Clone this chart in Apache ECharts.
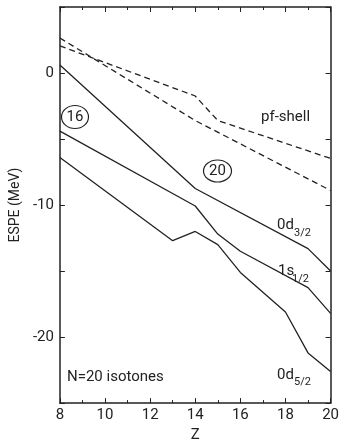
<!DOCTYPE html>
<html><head><meta charset="utf-8">
<script src="https://cdn.jsdelivr.net/npm/echarts@6/dist/echarts.min.js"></script>
<style>html,body{margin:0;padding:0;background:#fff}#c{width:342px;height:448px}</style>
</head><body><div id="c"></div>
<script>
// Data (Z, ESPE in MeV)
const d32Z = [8, 14, 19, 20];
const d32E = [0.6, -8.75, -13.3, -15.0];
const s12Z = [8, 14, 15, 16, 19, 20];
const s12E = [-4.4, -10.07, -12.2, -13.5, -16.25, -18.2];
const d52Z = [8, 13, 14, 15, 16, 18, 19, 20];
const d52E = [-6.4, -12.7, -12.0, -13.0, -15.1, -18.1, -21.2, -22.6];
const pfAZ = [8, 14, 20];
const pfAE = [2.65, -3.6, -8.9];
const pfBZ = [8, 14, 15, 20];
const pfBE = [2.06, -1.74, -3.6, -6.47];
const xTicks = [8, 10, 12, 14, 16, 18, 20];
const yTicks = [-20, -10, 0];
const yMinorTicks = [-25, -20, -15, -10, -5, 0, 5];

const pairs = (zs, es) => zs.map((z, i) => [z, es[i]]);
const FONT = 'Roboto';
const INK = '#222';

const chart = echarts.init(document.getElementById('c'), null, {renderer: 'canvas'});
const axisCommon = {
  type: 'value', min: 8, max: 20, interval: 2,
  axisLine: {show: true, onZero: false, lineStyle: {color: INK, width: 1.5}},
  axisTick: {show: true, inside: true, length: 5, lineStyle: {color: INK, width: 1}},
  minorTick: {show: true, splitNumber: 2, length: 3, lineStyle: {color: INK, width: 1}},
  splitLine: {show: false}
};
const solid = (name, data) => ({
  name, type: 'line', data, symbol: 'none', animation: false,
  lineStyle: {color: INK, width: 1.3}
});
const dashed = (name, data) => ({
  name, type: 'line', data, symbol: 'none', animation: false,
  lineStyle: {color: INK, width: 1.3, type: [6, 4]}
});
const txt = (x, y, text, size, align) => ({
  type: 'text', x, y, silent: true,
  style: {text, fontFamily: FONT, fontSize: size, fill: INK, align: align || 'left', verticalAlign: 'middle'}
});
const ell = (cx, cy, rx, ry) => ({
  type: 'ellipse', shape: {cx, cy, rx, ry}, silent: true,
  style: {fill: 'none', stroke: INK, lineWidth: 1.2}
});

chart.setOption({
  animation: false,
  grid: {left: 56, right: 9, top: 7, bottom: 32},
  xAxis: [
    Object.assign({}, axisCommon, {
      position: 'bottom', name: 'Z', nameLocation: 'middle', nameGap: 18,
      nameTextStyle: {fontFamily: FONT, fontSize: 15, color: INK},
      axisLabel: {fontFamily: FONT, fontSize: 15, color: INK, margin: 5, customValues: xTicks}
    }),
    Object.assign({}, axisCommon, {position: 'top', axisLabel: {show: false}})
  ],
  yAxis: [
    {
      type: 'value', min: -25, max: 5, position: 'left',
      name: 'ESPE (MeV)', nameLocation: 'middle', nameGap: 28,
      nameTextStyle: {fontFamily: FONT, fontSize: 14, color: INK},
      axisLine: {show: true, onZero: false, lineStyle: {color: INK, width: 1.5}},
      axisTick: {show: true, inside: true, length: 5, customValues: yMinorTicks, lineStyle: {color: INK, width: 1}},
      axisLabel: {fontFamily: FONT, fontSize: 15, color: INK, margin: 6, customValues: yTicks},
      splitLine: {show: false}
    },
    {
      type: 'value', min: -25, max: 5, position: 'right',
      axisLine: {show: true, onZero: false, lineStyle: {color: INK, width: 1.5}},
      axisTick: {show: true, inside: true, length: 5, customValues: yMinorTicks, lineStyle: {color: INK, width: 1}},
      axisLabel: {show: false},
      splitLine: {show: false}
    }
  ],
  series: [
    solid('0d3/2', pairs(d32Z, d32E)),
    solid('1s1/2', pairs(s12Z, s12E)),
    solid('0d5/2', pairs(d52Z, d52E)),
    dashed('pfA', pairs(pfAZ, pfAE)),
    dashed('pfB', pairs(pfBZ, pfBE))
  ],
  graphic: [
    ell(75, 117, 13.5, 11.5), txt(75, 117, '16', 15, 'center'),
    ell(217.5, 171, 14, 11), txt(217.5, 171, '20', 15, 'center'),
    txt(261, 117, 'pf-shell', 15),
    txt(277, 225, '0d', 15), txt(294, 233, '3/2', 11),
    txt(278, 271, '1s', 15), txt(292, 279, '1/2', 11),
    txt(277, 375, '0d', 15), txt(294, 382, '5/2', 11),
    txt(67, 377, 'N=20 isotones', 15)
  ]
});
</script></body></html>
